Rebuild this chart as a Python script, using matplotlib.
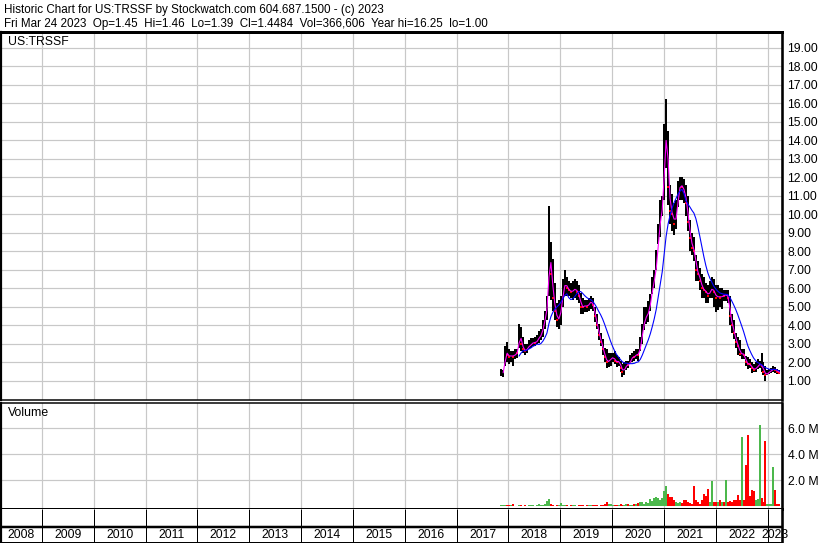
import numpy as np
import pandas as pd
import matplotlib
matplotlib.use("Agg")
import matplotlib.pyplot as plt

plt.rcParams['font.family'] = ['Liberation Sans', 'DejaVu Sans']

# ---------------- data ----------------
title_line1 = "Historic Chart for US:TRSSF by Stockwatch.com 604.687.1500 - (c) 2023"
title_line2 = ("Fri Mar 24 2023  Op=1.45  Hi=1.46  Lo=1.39  Cl=1.4484  "
               "Vol=366,606  Year hi=16.25  lo=1.00")
symbol = "US:TRSSF"
first_date = "2017-11-11"          # first bi-weekly bar
year_labels = list(range(2008, 2024))
price_ticks = list(range(1, 20))
volume_ticks = [2, 4, 6]           # millions

highs = [1.65, 1.60, 2.90, 3.10, 2.70, 2.60, 2.60, 2.70, 2.70, 4.10,
         3.90, 3.40, 3.00, 3.00, 3.20, 3.30, 3.30, 3.40, 3.50, 3.70,
         3.80, 4.30, 4.80, 5.60, 10.45, 8.50, 7.60, 6.30, 5.20, 5.40,
         5.60, 6.50, 7.00, 6.60, 6.40, 6.30, 6.40, 6.50, 6.40, 6.20,
         5.75, 5.50, 5.40, 5.40, 5.50, 5.60, 5.50, 5.00, 4.60, 4.10,
         3.60, 3.25, 2.80, 2.70, 2.50, 2.50, 2.50, 2.60, 2.40, 2.30,
         2.10, 1.90, 2.00, 2.10, 2.10, 2.40, 2.50, 2.60, 2.70, 2.70,
         3.40, 4.10, 5.00, 5.00, 5.30, 5.70, 6.60, 7.00, 8.10, 9.50,
         10.80, 11.00, 14.90, 16.25, 14.50, 11.60, 11.10, 10.60, 10.80, 11.80,
         12.00, 12.00, 11.90, 11.60, 11.00, 9.70, 9.00, 8.80, 7.80, 7.50,
         7.10, 6.80, 6.60, 6.30, 6.20, 6.40, 6.60, 6.50, 6.20, 6.20,
         6.00, 6.00, 5.90, 5.90, 5.90, 5.60, 4.60, 4.30, 3.60, 3.40,
         3.20, 2.70, 2.70, 2.35, 2.30, 2.20, 2.00, 1.90, 2.00, 2.20,
         2.10, 2.50, 2.00, 1.80, 1.60, 1.65, 1.70, 1.80, 1.75, 1.65,
         1.60]
lows = [1.25, 1.20, 1.80, 2.00, 1.90, 2.00, 1.80, 2.20, 2.25, 2.80,
        2.60, 2.50, 2.40, 2.50, 2.70, 2.80, 2.90, 2.90, 3.00, 3.05,
        3.20, 3.40, 3.80, 4.30, 5.60, 5.40, 4.80, 4.30, 3.90, 3.80,
        4.00, 5.00, 5.60, 5.60, 5.60, 5.50, 5.40, 5.50, 5.40, 5.20,
        4.60, 4.60, 4.70, 4.70, 4.80, 4.90, 4.80, 4.20, 3.80, 3.20,
        2.90, 2.40, 2.00, 1.70, 1.75, 1.80, 2.00, 1.90, 1.75, 1.80,
        1.50, 1.20, 1.30, 1.60, 1.70, 1.95, 2.00, 2.10, 2.20, 2.10,
        2.60, 3.00, 3.75, 4.10, 4.20, 4.80, 5.70, 6.00, 7.00, 8.40,
        8.80, 9.90, 10.80, 12.50, 10.50, 9.50, 9.10, 8.90, 9.20, 10.40,
        10.80, 10.80, 10.60, 9.90, 9.10, 8.00, 7.80, 7.50, 6.40, 6.40,
        5.90, 5.50, 5.50, 5.20, 5.20, 5.50, 5.50, 5.00, 4.70, 4.85,
        5.00, 4.90, 5.30, 5.30, 5.20, 4.00, 3.60, 3.25, 2.80, 2.40,
        2.35, 2.20, 2.20, 1.80, 1.65, 1.70, 1.45, 1.50, 1.50, 1.65,
        1.70, 1.50, 1.30, 1.00, 1.30, 1.35, 1.45, 1.50, 1.45, 1.40,
        1.39]
closes = [1.40, 1.50, 2.60, 2.40, 2.30, 2.40, 2.30, 2.50, 2.50, 3.60,
          3.00, 2.70, 2.60, 2.80, 2.90, 3.00, 3.10, 3.05, 3.20, 3.40,
          3.50, 4.00, 4.50, 5.20, 8.00, 6.80, 5.50, 4.80, 4.30, 4.40,
          5.00, 6.00, 6.30, 6.00, 5.90, 5.80, 5.90, 6.00, 5.80, 5.60,
          5.00, 5.00, 5.10, 5.00, 5.20, 5.30, 5.10, 4.50, 4.00, 3.50,
          3.10, 2.70, 2.30, 2.00, 2.10, 2.20, 2.30, 2.10, 2.00, 2.10,
          1.70, 1.50, 1.70, 1.90, 1.85, 2.20, 2.30, 2.30, 2.50, 2.40,
          3.10, 3.80, 4.40, 4.50, 4.80, 5.40, 6.20, 6.60, 7.60, 9.00,
          10.00, 10.50, 13.50, 14.50, 11.50, 10.20, 10.00, 9.50, 10.00, 11.30,
          11.60, 11.50, 11.20, 10.60, 9.60, 8.70, 8.20, 8.00, 7.00, 6.80,
          6.40, 6.00, 5.90, 5.80, 5.60, 5.90, 6.00, 5.80, 5.50, 5.60,
          5.50, 5.60, 5.60, 5.70, 5.50, 4.50, 4.00, 3.60, 3.10, 2.90,
          2.45, 2.50, 2.40, 2.00, 1.90, 1.90, 1.70, 1.60, 1.70, 1.80,
          1.95, 1.80, 1.50, 1.30, 1.45, 1.50, 1.60, 1.65, 1.60, 1.50,
          1.45]
volumes = [0.10, 0.08, 0.12, 0.10, 0.08, 0.10, 0.18, 0.05, 0.05, 0.08,
           0.06, 0.05, 0.07, 0.05, 0.10, 0.10, 0.08, 0.05, 0.10, 0.15,
           0.08, 0.10, 0.20, 0.40, 0.56, 0.15, 0.10, 0.05, 0.08, 0.08,
           0.25, 0.12, 0.08, 0.10, 0.05, 0.10, 0.12, 0.08, 0.05, 0.10,
           0.08, 0.12, 0.05, 0.08, 0.10, 0.08, 0.06, 0.10, 0.08, 0.05,
           0.08, 0.12, 0.15, 0.33, 0.20, 0.15, 0.10, 0.08, 0.12, 0.10,
           0.15, 0.12, 0.08, 0.15, 0.20, 0.12, 0.10, 0.20, 0.15, 0.25,
           0.35, 0.30, 0.20, 0.30, 0.25, 0.55, 0.40, 0.60, 0.70, 0.65,
           0.45, 0.60, 1.15, 1.55, 0.95, 0.70, 0.75, 0.50, 0.35, 0.25,
           0.30, 0.25, 0.50, 0.45, 0.30, 0.25, 0.20, 1.55, 0.45, 0.30,
           0.20, 0.45, 0.95, 0.80, 1.30, 0.30, 1.95, 0.30, 0.35, 0.30,
           0.45, 0.35, 0.30, 2.05, 0.35, 0.40, 0.30, 0.45, 0.50, 0.90,
           0.45, 5.30, 0.50, 3.20, 5.50, 0.80, 1.25, 1.20, 0.50, 0.55,
           6.25, 0.60, 0.30, 5.00, 0.20, 0.15, 0.20, 3.00, 1.25, 0.20,
           0.15]

# ---------------- derived ----------------
highs = np.array(highs); lows = np.array(lows)
closes = np.array(closes); volumes = np.array(volumes)
dates = pd.date_range(first_date, periods=len(closes), freq="14D")
t = np.asarray(dates.year + (dates.dayofyear - 1) / 365.25, dtype=float)
cs = pd.Series(closes)
ma_short = cs.rolling(2).mean().values     # ~20 day
ma_long = cs.rolling(10).mean().values     # ~100 day
up = np.r_[True, closes[1:] > closes[:-1]]

# ---------------- figure ----------------
W, H = 830, 543
fig = plt.figure(figsize=(W / 100, H / 100), dpi=100)

def add_ax(x0, y0, x1, y1):
    return fig.add_axes([x0 / W, 1 - y1 / H, (x1 - x0) / W, (y1 - y0) / H])

X0, X1 = 2008.21, 2023.277
GRID = "#c8c8c8"
FS = 8.8
FS_HEAD = 8.4
px = 0.72  # one pixel in points

def frame(ax, top=1.5, bottom=1.5, left=2.2, right=2.6):
    for side, lw in (("top", top), ("bottom", bottom), ("left", left), ("right", right)):
        if lw:
            ax.spines[side].set_linewidth(lw * px)
            ax.spines[side].set_color("black")
        else:
            ax.spines[side].set_visible(False)

# price panel
ax = add_ax(1, 32, 782, 400)
ax.set_xlim(X0, X1)
ax.set_ylim(-0.03, 19.86)
ax.set_xticks(year_labels[1:])
ax.set_yticks(price_ticks)
ax.set_yticklabels([f"{v:.2f}" for v in price_ticks], fontsize=FS)
ax.yaxis.tick_right()
ax.tick_params(axis="y", length=0, pad=4)
ax.tick_params(axis="x", length=0, labelbottom=False)
ax.grid(True, color=GRID, lw=1.2 * px)
ax.set_axisbelow(True)
frame(ax, top=3, bottom=1.5)
ax.vlines(t, lows, highs, color="black", lw=1.6 * px, zorder=3,
          antialiased=False)
ax.plot(t[~up], closes[~up], ls="none", marker="s", ms=1.6, mew=0,
        color="red", zorder=4)
ax.plot(t, ma_short, color="#ff00ff", lw=1.1 * px, zorder=5)
ax.plot(t, ma_long, color="#0000ff", lw=1.1 * px, zorder=6)

# volume panel
axv = add_ax(1, 403, 782, 509)
axv.set_xlim(X0, X1)
axv.set_ylim(-0.21, 7.95)
axv.set_xticks(year_labels[1:])
axv.set_yticks(volume_ticks)
axv.set_yticklabels([f"{v:.1f} M" for v in volume_ticks], fontsize=FS)
axv.yaxis.tick_right()
axv.tick_params(axis="y", length=0, pad=4)
axv.tick_params(axis="x", length=0, labelbottom=False)
axv.grid(True, color=GRID, lw=1.2 * px)
axv.set_axisbelow(True)
frame(axv, top=1.5, bottom=3)
vcol = np.where(up, "#4cb84c", "#ff0000")
axv.vlines(t, 0, volumes, colors=vcol, lw=2.0 * px, zorder=3,
           antialiased=False)

# date strips
axd = add_ax(1, 509, 782, 543)
axd.set_xlim(X0, X1)
axd.set_ylim(0, 34)
axd.set_xticks([]); axd.set_yticks([])
frame(axd, top=0, bottom=2, left=2.2, right=2.6)
axd.axhline(16, color="black", lw=2.5 * px)
axd.vlines(year_labels[1:], 0, 34, color="black", lw=1 * px)
for y in year_labels:
    a, b = max(y, X0), min(y + 1, X1)
    axd.text((a + b) / 2, 8, str(y), ha="center", va="center",
             fontsize=FS, clip_on=False, zorder=1)

# header & labels
fig.text(4 / W, 1 - 9.5 / H, title_line1, va="center", fontsize=FS_HEAD)
fig.text(4 / W, 1 - 24 / H, title_line2, va="center", fontsize=FS_HEAD)
fig.text(8 / W, 1 - 42 / H, symbol, va="center", fontsize=FS)
fig.text(8 / W, 1 - 413 / H, "Volume", va="center", fontsize=FS)

fig.savefig("out.png", dpi=100)
